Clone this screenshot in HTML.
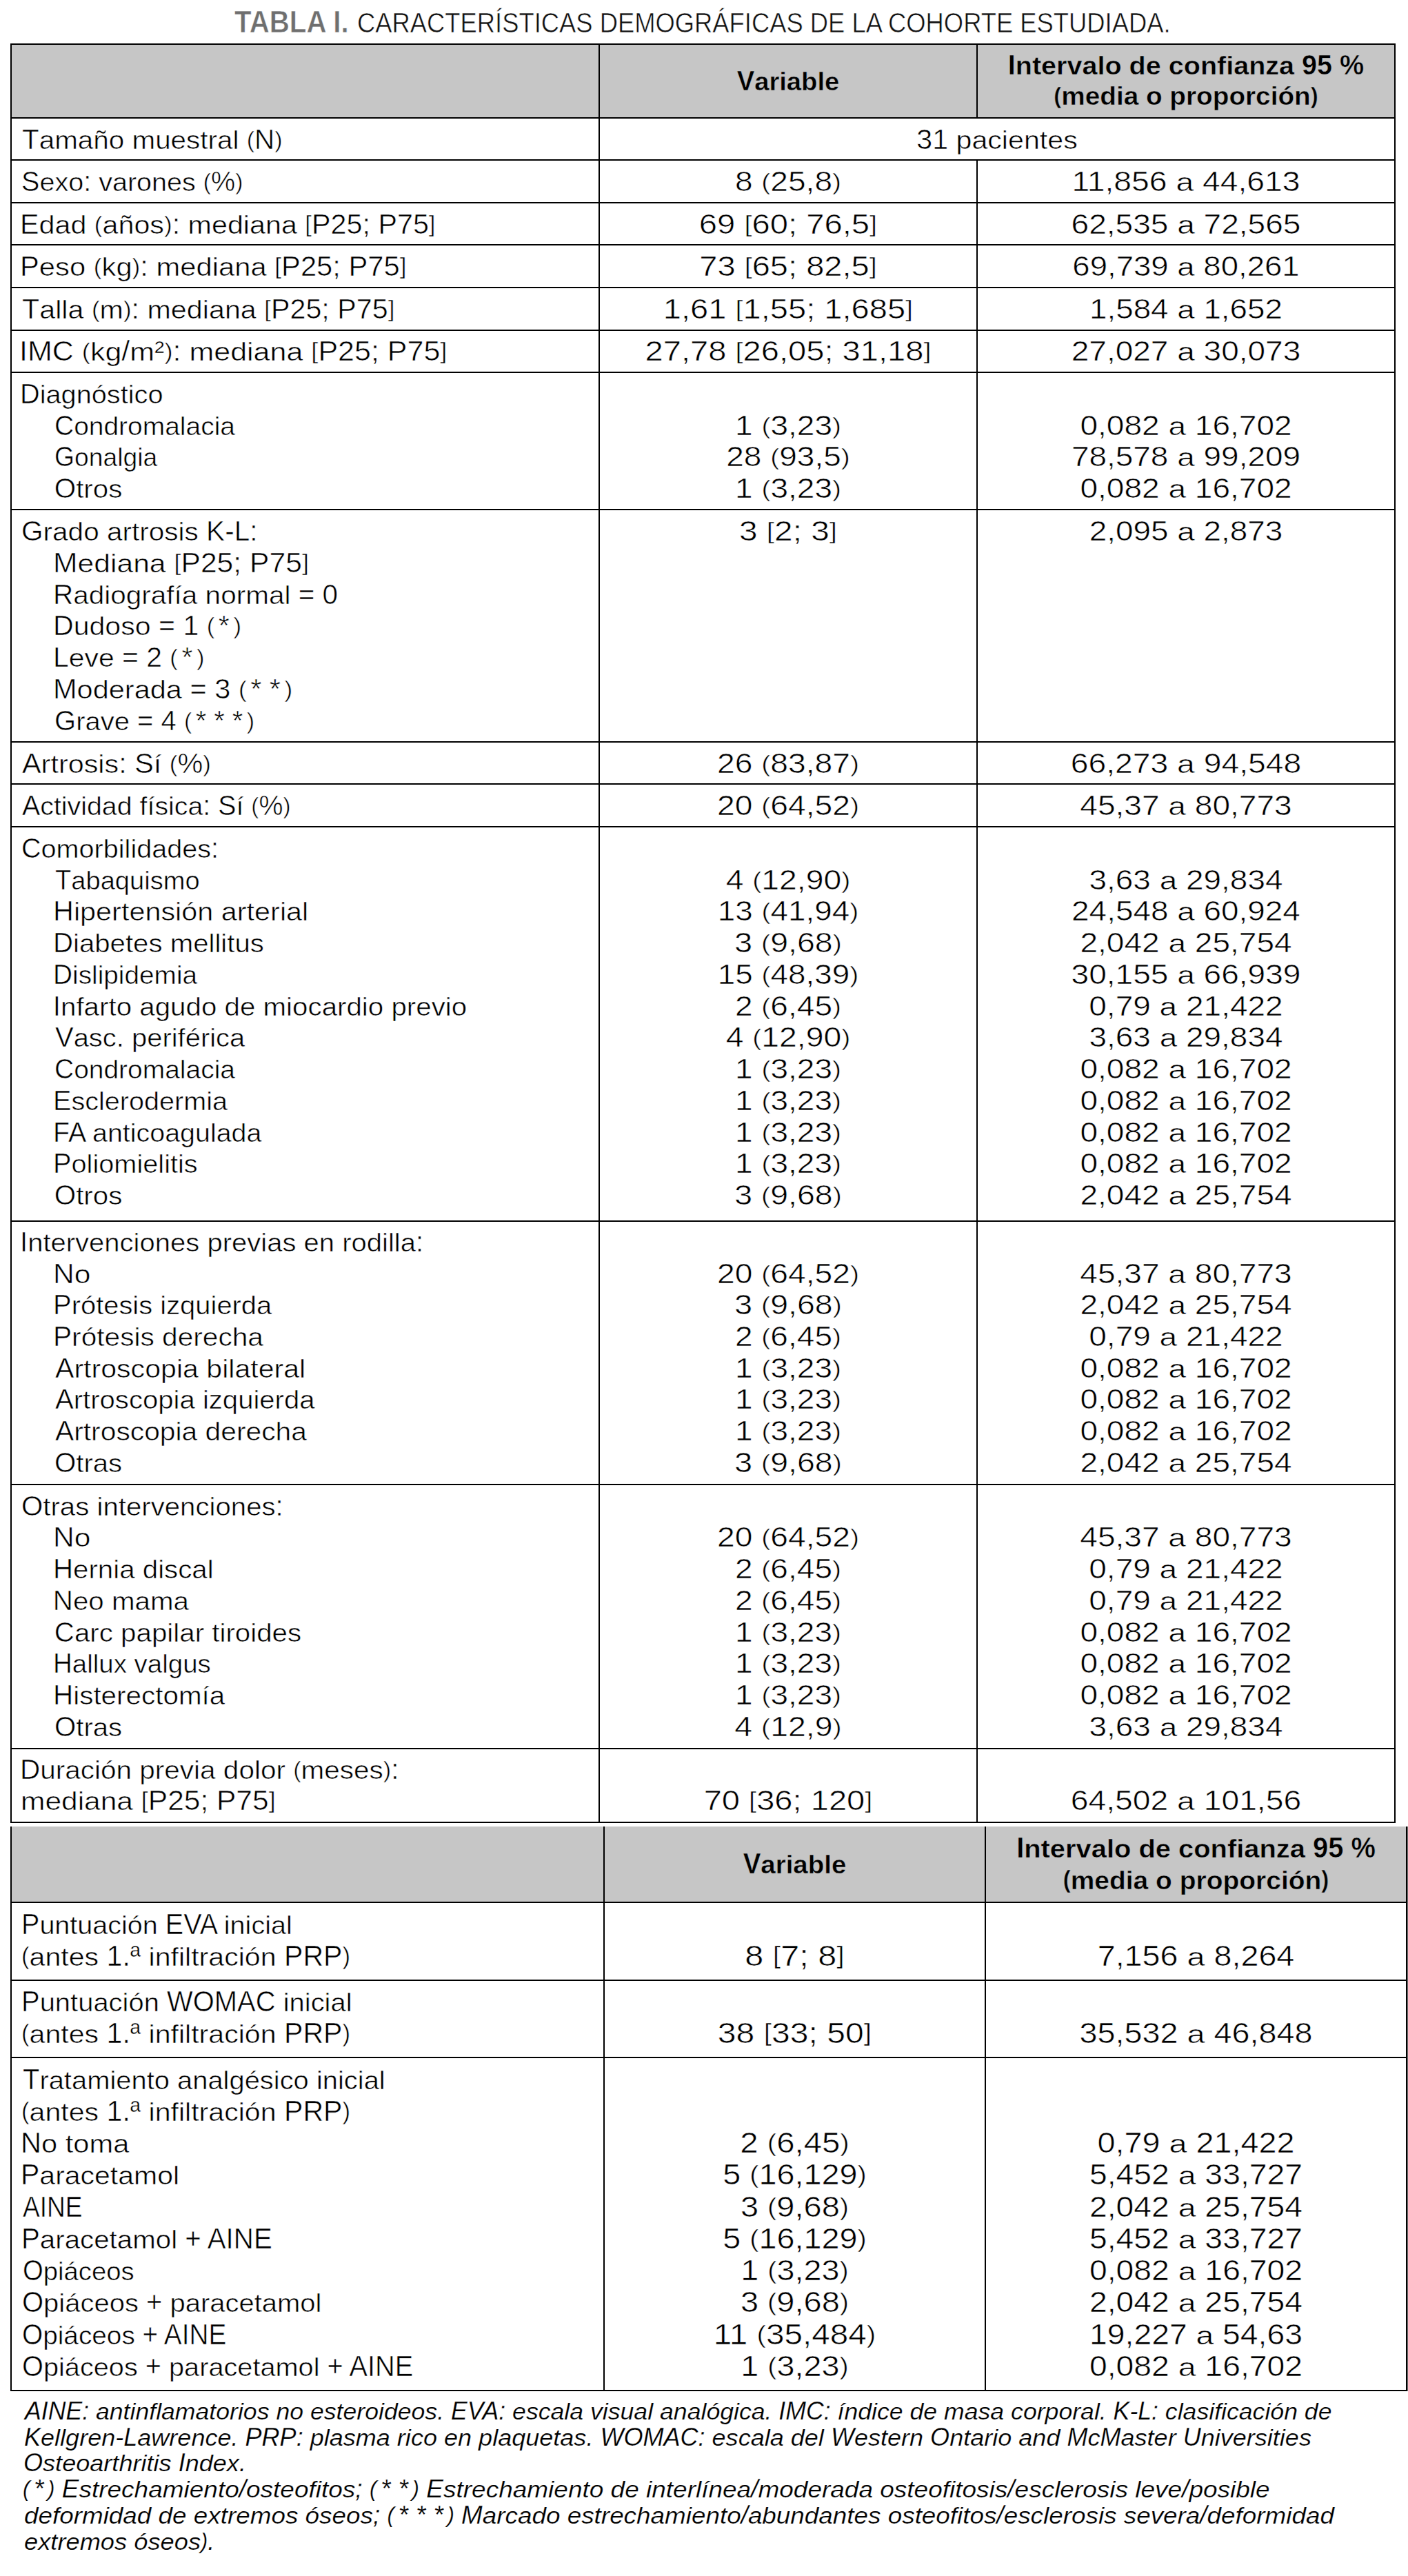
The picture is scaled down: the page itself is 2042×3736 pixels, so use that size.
<!DOCTYPE html><html lang="es"><head><meta charset="utf-8"><title>Tabla I. Características demográficas de la cohorte estudiada</title><style>
html,body{margin:0;padding:0;background:#fff;}
body{width:2042px;height:3736px;position:relative;overflow:hidden;}
.r{position:absolute}
.t{position:absolute;white-space:nowrap;font-family:"Liberation Sans",Arial,sans-serif;font-size:40.3px;line-height:40px;color:#000;-webkit-text-stroke:0.6px #fff}
.hd{-webkit-text-stroke:0.5px #c6c6c6}
.a{padding:0 5.5px}
.lc{display:inline-block;transform:scaleY(var(--ls,0.91));transform-origin:0 var(--bo)}
.p{font-size:0.846em;vertical-align:0.06em;line-height:0}
.q{font-size:0.846em;vertical-align:0.077em;line-height:0}
.tg{color:#6f6f6f}
.fn{-webkit-text-stroke-width:0.25px}
.tt{color:#111}
</style></head><body>
<div class="r" style="left:15px;top:63px;width:2009px;height:108px;background:#c6c6c6"></div>
<div class="r" style="left:15px;top:63px;width:2009px;height:2px;background:#000"></div>
<div class="r" style="left:15px;top:170px;width:2009px;height:2px;background:#000"></div>
<div class="r" style="left:15px;top:231px;width:2009px;height:2px;background:#000"></div>
<div class="r" style="left:15px;top:293px;width:2009px;height:2px;background:#000"></div>
<div class="r" style="left:15px;top:354px;width:2009px;height:2px;background:#000"></div>
<div class="r" style="left:15px;top:416px;width:2009px;height:2px;background:#000"></div>
<div class="r" style="left:15px;top:478px;width:2009px;height:2px;background:#000"></div>
<div class="r" style="left:15px;top:539px;width:2009px;height:2px;background:#000"></div>
<div class="r" style="left:15px;top:738px;width:2009px;height:2px;background:#000"></div>
<div class="r" style="left:15px;top:1075px;width:2009px;height:2px;background:#000"></div>
<div class="r" style="left:15px;top:1136px;width:2009px;height:2px;background:#000"></div>
<div class="r" style="left:15px;top:1198px;width:2009px;height:2px;background:#000"></div>
<div class="r" style="left:15px;top:1770px;width:2009px;height:2px;background:#000"></div>
<div class="r" style="left:15px;top:2152px;width:2009px;height:2px;background:#000"></div>
<div class="r" style="left:15px;top:2535px;width:2009px;height:2px;background:#000"></div>
<div class="r" style="left:15px;top:2642px;width:2009px;height:2px;background:#000"></div>
<div class="r" style="left:15px;top:63px;width:2px;height:2581px;background:#000"></div>
<div class="r" style="left:2022px;top:63px;width:2px;height:2581px;background:#000"></div>
<div class="r" style="left:868px;top:63px;width:2px;height:2581px;background:#000"></div>
<div class="r" style="left:1416px;top:63px;width:2px;height:108px;background:#000"></div>
<div class="r" style="left:1416px;top:231px;width:2px;height:2413px;background:#000"></div>
<div class="r" style="left:15px;top:2649px;width:2026px;height:109px;background:#c6c6c6"></div>
<div class="r" style="left:15px;top:2758px;width:2026px;height:2px;background:#000"></div>
<div class="r" style="left:15px;top:2871px;width:2026px;height:2px;background:#000"></div>
<div class="r" style="left:15px;top:2983px;width:2026px;height:2px;background:#000"></div>
<div class="r" style="left:15px;top:3466px;width:2026px;height:2px;background:#000"></div>
<div class="r" style="left:15px;top:2649px;width:2px;height:819px;background:#000"></div>
<div class="r" style="left:2039px;top:2649px;width:2px;height:819px;background:#000"></div>
<div class="r" style="left:2041px;top:2649px;width:1px;height:819px;background:#7a7a7a"></div>
<div class="r" style="left:875px;top:2649px;width:2px;height:819px;background:#000"></div>
<div class="r" style="left:1428px;top:2649px;width:2px;height:819px;background:#000"></div>
<div class="t hd" style="top:98px;--bo:33px;font-size:40.3px;font-weight:700;font-style:normal;left:870px;width:546px;text-align:center;transform-origin:50% 0;transform:scaleX(0.9481)">V<span class="lc">ariable</span></div>
<div class="t hd" style="top:75px;--bo:33px;font-size:40.3px;font-weight:700;font-style:normal;left:1418px;width:604px;text-align:center;transform-origin:50% 0;transform:scaleX(0.9814)">I<span class="lc">ntervalo</span> <span class="lc">de</span> <span class="lc">confianza</span> 95 %</div>
<div class="t hd" style="top:119px;--bo:33px;font-size:40.3px;font-weight:700;font-style:normal;left:1418px;width:604px;text-align:center;transform-origin:50% 0;transform:scaleX(0.9608)"><span class="p">(</span><span class="lc">media</span> <span class="lc">o</span> <span class="lc">proporción</span><span class="p">)</span></div>
<div class="t" style="top:183px;--bo:33px;left:31.7px;transform-origin:0 0;transform:scaleX(1.0027)">T<span class="lc">amaño</span> <span class="lc">muestral</span> <span class="p">(</span>N<span class="p">)</span></div>
<div class="t" style="top:183px;--bo:33px;left:870px;width:1152px;text-align:center;transform-origin:50% 0;transform:scaleX(1.0216)">31 <span class="lc">pacientes</span></div>
<div class="t" style="top:244px;--bo:33px;left:30.7px;transform-origin:0 0;transform:scaleX(0.9814)">S<span class="lc">exo</span>: <span class="lc">varones</span> <span class="p">(</span>%<span class="p">)</span></div>
<div class="t" style="top:244px;--bo:33px;left:870px;width:546px;text-align:center;transform-origin:50% 0;transform:scaleX(1.1435)">8 <span class="p">(</span>25,8<span class="p">)</span></div>
<div class="t" style="top:244px;--bo:33px;left:1418px;width:604px;text-align:center;transform-origin:50% 0;transform:scaleX(1.1484)">11,856 <span class="lc">a</span> 44,613</div>
<div class="t" style="top:306px;--bo:33px;left:28.6px;transform-origin:0 0;transform:scaleX(1.0241)">E<span class="lc">dad</span> <span class="p">(</span><span class="lc">años</span><span class="p">)</span>: <span class="lc">mediana</span> <span class="q">[</span>P25; P75<span class="q">]</span></div>
<div class="t" style="top:306px;--bo:33px;left:870px;width:546px;text-align:center;transform-origin:50% 0;transform:scaleX(1.1713)">69 <span class="q">[</span>60; 76,5<span class="q">]</span></div>
<div class="t" style="top:306px;--bo:33px;left:1418px;width:604px;text-align:center;transform-origin:50% 0;transform:scaleX(1.1429)">62,535 <span class="lc">a</span> 72,565</div>
<div class="t" style="top:367px;--bo:33px;left:28.6px;transform-origin:0 0;transform:scaleX(1.0356)">P<span class="lc">eso</span> <span class="p">(</span><span class="lc">kg</span><span class="p">)</span>: <span class="lc">mediana</span> <span class="q">[</span>P25; P75<span class="q">]</span></div>
<div class="t" style="top:367px;--bo:33px;left:870px;width:546px;text-align:center;transform-origin:50% 0;transform:scaleX(1.1667)">73 <span class="q">[</span>65; 82,5<span class="q">]</span></div>
<div class="t" style="top:367px;--bo:33px;left:1418px;width:604px;text-align:center;transform-origin:50% 0;transform:scaleX(1.1303)">69,739 <span class="lc">a</span> 80,261</div>
<div class="t" style="top:429px;--bo:33px;left:31.7px;transform-origin:0 0;transform:scaleX(1.0239)">T<span class="lc">alla</span> <span class="p">(</span><span class="lc">m</span><span class="p">)</span>: <span class="lc">mediana</span> <span class="q">[</span>P25; P75<span class="q">]</span></div>
<div class="t" style="top:429px;--bo:33px;left:870px;width:546px;text-align:center;transform-origin:50% 0;transform:scaleX(1.1678)">1,61 <span class="q">[</span>1,55; 1,685<span class="q">]</span></div>
<div class="t" style="top:429px;--bo:33px;left:1418px;width:604px;text-align:center;transform-origin:50% 0;transform:scaleX(1.1353)">1,584 <span class="lc">a</span> 1,652</div>
<div class="t" style="top:490px;--bo:33px;left:28.4px;transform-origin:0 0;transform:scaleX(1.0670)">IMC <span class="p">(</span><span class="lc">kg</span>/<span class="lc">m</span>²<span class="p">)</span>: <span class="lc">mediana</span> <span class="q">[</span>P25; P75<span class="q">]</span></div>
<div class="t" style="top:490px;--bo:33px;left:870px;width:546px;text-align:center;transform-origin:50% 0;transform:scaleX(1.1686)">27,78 <span class="q">[</span>26,05; 31,18<span class="q">]</span></div>
<div class="t" style="top:490px;--bo:33px;left:1418px;width:604px;text-align:center;transform-origin:50% 0;transform:scaleX(1.1415)">27,027 <span class="lc">a</span> 30,073</div>
<div class="t" style="top:552px;--bo:33px;left:28.8px;transform-origin:0 0;transform:scaleX(0.9854)">D<span class="lc">iagnóstico</span></div>
<div class="t" style="top:598px;--bo:33px;left:78.9px;transform-origin:0 0;transform:scaleX(0.9665)">C<span class="lc">ondromalacia</span></div>
<div class="t" style="top:643px;--bo:33px;left:79.0px;transform-origin:0 0;transform:scaleX(0.9245)">G<span class="lc">onalgia</span></div>
<div class="t" style="top:689px;--bo:33px;left:78.8px;transform-origin:0 0;transform:scaleX(1.0000)">O<span class="lc">tros</span></div>
<div class="t" style="top:598px;--bo:33px;left:870px;width:546px;text-align:center;transform-origin:50% 0;transform:scaleX(1.1426)">1 <span class="p">(</span>3,23<span class="p">)</span></div>
<div class="t" style="top:643px;--bo:33px;left:870px;width:546px;text-align:center;transform-origin:50% 0;transform:scaleX(1.1425)">28 <span class="p">(</span>93,5<span class="p">)</span></div>
<div class="t" style="top:689px;--bo:33px;left:870px;width:546px;text-align:center;transform-origin:50% 0;transform:scaleX(1.1426)">1 <span class="p">(</span>3,23<span class="p">)</span></div>
<div class="t" style="top:598px;--bo:33px;left:1418px;width:604px;text-align:center;transform-origin:50% 0;transform:scaleX(1.1423)">0,082 <span class="lc">a</span> 16,702</div>
<div class="t" style="top:643px;--bo:33px;left:1418px;width:604px;text-align:center;transform-origin:50% 0;transform:scaleX(1.1404)">78,578 <span class="lc">a</span> 99,209</div>
<div class="t" style="top:689px;--bo:33px;left:1418px;width:604px;text-align:center;transform-origin:50% 0;transform:scaleX(1.1423)">0,082 <span class="lc">a</span> 16,702</div>
<div class="t" style="top:751px;--bo:33px;left:30.7px;transform-origin:0 0;transform:scaleX(1.0060)">G<span class="lc">rado</span> <span class="lc">artrosis</span> K-L:</div>
<div class="t" style="top:797px;--bo:33px;left:76.6px;transform-origin:0 0;transform:scaleX(1.0581)">M<span class="lc">ediana</span> <span class="q">[</span>P25; P75<span class="q">]</span></div>
<div class="t" style="top:843px;--bo:33px;left:76.8px;transform-origin:0 0;transform:scaleX(1.0049)">R<span class="lc">adiografía</span> <span class="lc">normal</span> = 0</div>
<div class="t" style="top:888px;--bo:33px;left:76.7px;transform-origin:0 0;transform:scaleX(1.0192)">D<span class="lc">udoso</span> = 1 <span class="p">(</span><span class="a">*</span><span class="p">)</span></div>
<div class="t" style="top:934px;--bo:33px;left:76.7px;transform-origin:0 0;transform:scaleX(1.0143)">L<span class="lc">eve</span> = 2 <span class="p">(</span><span class="a">*</span><span class="p">)</span></div>
<div class="t" style="top:980px;--bo:33px;left:76.7px;transform-origin:0 0;transform:scaleX(1.0302)">M<span class="lc">oderada</span> = 3 <span class="p">(</span><span class="a">*</span><span class="a">*</span><span class="p">)</span></div>
<div class="t" style="top:1026px;--bo:33px;left:78.8px;transform-origin:0 0;transform:scaleX(0.9931)">G<span class="lc">rave</span> = 4 <span class="p">(</span><span class="a">*</span><span class="a">*</span><span class="a">*</span><span class="p">)</span></div>
<div class="t" style="top:751px;--bo:33px;left:870px;width:546px;text-align:center;transform-origin:50% 0;transform:scaleX(1.1861)">3 <span class="q">[</span>2; 3<span class="q">]</span></div>
<div class="t" style="top:751px;--bo:33px;left:1418px;width:604px;text-align:center;transform-origin:50% 0;transform:scaleX(1.1388)">2,095 <span class="lc">a</span> 2,873</div>
<div class="t" style="top:1088px;--bo:33px;left:31.7px;transform-origin:0 0;transform:scaleX(1.0266)">A<span class="lc">rtrosis</span>: S<span class="lc">í</span> <span class="p">(</span>%<span class="p">)</span></div>
<div class="t" style="top:1088px;--bo:33px;left:870px;width:546px;text-align:center;transform-origin:50% 0;transform:scaleX(1.1474)">26 <span class="p">(</span>83,87<span class="p">)</span></div>
<div class="t" style="top:1088px;--bo:33px;left:1418px;width:604px;text-align:center;transform-origin:50% 0;transform:scaleX(1.1477)">66,273 <span class="lc">a</span> 94,548</div>
<div class="t" style="top:1149px;--bo:33px;left:31.7px;transform-origin:0 0;transform:scaleX(0.9760)">A<span class="lc">ctividad</span> <span class="lc">física</span>: S<span class="lc">í</span> <span class="p">(</span>%<span class="p">)</span></div>
<div class="t" style="top:1149px;--bo:33px;left:870px;width:546px;text-align:center;transform-origin:50% 0;transform:scaleX(1.1474)">20 <span class="p">(</span>64,52<span class="p">)</span></div>
<div class="t" style="top:1149px;--bo:33px;left:1418px;width:604px;text-align:center;transform-origin:50% 0;transform:scaleX(1.1429)">45,37 <span class="lc">a</span> 80,773</div>
<div class="t" style="top:1211px;--bo:33px;left:30.7px;transform-origin:0 0;transform:scaleX(0.9825)">C<span class="lc">omorbilidades</span>:</div>
<div class="t" style="top:1257px;--bo:33px;left:79.9px;transform-origin:0 0;transform:scaleX(0.9452)">T<span class="lc">abaquismo</span></div>
<div class="t" style="top:1302px;--bo:33px;left:76.7px;transform-origin:0 0;transform:scaleX(1.0268)">H<span class="lc">ipertensión</span> <span class="lc">arterial</span></div>
<div class="t" style="top:1348px;--bo:33px;left:76.8px;transform-origin:0 0;transform:scaleX(0.9967)">D<span class="lc">iabetes</span> <span class="lc">mellitus</span></div>
<div class="t" style="top:1394px;--bo:33px;left:77.0px;transform-origin:0 0;transform:scaleX(0.9624)">D<span class="lc">islipidemia</span></div>
<div class="t" style="top:1440px;--bo:33px;left:76.8px;transform-origin:0 0;transform:scaleX(1.0000)">I<span class="lc">nfarto</span> <span class="lc">agudo</span> <span class="lc">de</span> <span class="lc">miocardio</span> <span class="lc">previo</span></div>
<div class="t" style="top:1485px;--bo:33px;left:79.8px;transform-origin:0 0;transform:scaleX(0.9909)">V<span class="lc">asc</span>. <span class="lc">periférica</span></div>
<div class="t" style="top:1531px;--bo:33px;left:78.9px;transform-origin:0 0;transform:scaleX(0.9665)">C<span class="lc">ondromalacia</span></div>
<div class="t" style="top:1577px;--bo:33px;left:76.9px;transform-origin:0 0;transform:scaleX(0.9826)">E<span class="lc">sclerodermia</span></div>
<div class="t" style="top:1623px;--bo:33px;left:76.9px;transform-origin:0 0;transform:scaleX(0.9780)">FA <span class="lc">anticoagulada</span></div>
<div class="t" style="top:1668px;--bo:33px;left:76.9px;transform-origin:0 0;transform:scaleX(0.9855)">P<span class="lc">oliomielitis</span></div>
<div class="t" style="top:1714px;--bo:33px;left:78.8px;transform-origin:0 0;transform:scaleX(1.0000)">O<span class="lc">tros</span></div>
<div class="t" style="top:1257px;--bo:33px;left:870px;width:546px;text-align:center;transform-origin:50% 0;transform:scaleX(1.1494)">4 <span class="p">(</span>12,90<span class="p">)</span></div>
<div class="t" style="top:1302px;--bo:33px;left:870px;width:546px;text-align:center;transform-origin:50% 0;transform:scaleX(1.1379)">13 <span class="p">(</span>41,94<span class="p">)</span></div>
<div class="t" style="top:1348px;--bo:33px;left:870px;width:546px;text-align:center;transform-origin:50% 0;transform:scaleX(1.1538)">3 <span class="p">(</span>9,68<span class="p">)</span></div>
<div class="t" style="top:1394px;--bo:33px;left:870px;width:546px;text-align:center;transform-origin:50% 0;transform:scaleX(1.1379)">15 <span class="p">(</span>48,39<span class="p">)</span></div>
<div class="t" style="top:1440px;--bo:33px;left:870px;width:546px;text-align:center;transform-origin:50% 0;transform:scaleX(1.1435)">2 <span class="p">(</span>6,45<span class="p">)</span></div>
<div class="t" style="top:1485px;--bo:33px;left:870px;width:546px;text-align:center;transform-origin:50% 0;transform:scaleX(1.1494)">4 <span class="p">(</span>12,90<span class="p">)</span></div>
<div class="t" style="top:1531px;--bo:33px;left:870px;width:546px;text-align:center;transform-origin:50% 0;transform:scaleX(1.1426)">1 <span class="p">(</span>3,23<span class="p">)</span></div>
<div class="t" style="top:1577px;--bo:33px;left:870px;width:546px;text-align:center;transform-origin:50% 0;transform:scaleX(1.1426)">1 <span class="p">(</span>3,23<span class="p">)</span></div>
<div class="t" style="top:1623px;--bo:33px;left:870px;width:546px;text-align:center;transform-origin:50% 0;transform:scaleX(1.1426)">1 <span class="p">(</span>3,23<span class="p">)</span></div>
<div class="t" style="top:1668px;--bo:33px;left:870px;width:546px;text-align:center;transform-origin:50% 0;transform:scaleX(1.1426)">1 <span class="p">(</span>3,23<span class="p">)</span></div>
<div class="t" style="top:1714px;--bo:33px;left:870px;width:546px;text-align:center;transform-origin:50% 0;transform:scaleX(1.1538)">3 <span class="p">(</span>9,68<span class="p">)</span></div>
<div class="t" style="top:1257px;--bo:33px;left:1418px;width:604px;text-align:center;transform-origin:50% 0;transform:scaleX(1.1399)">3,63 <span class="lc">a</span> 29,834</div>
<div class="t" style="top:1302px;--bo:33px;left:1418px;width:604px;text-align:center;transform-origin:50% 0;transform:scaleX(1.1389)">24,548 <span class="lc">a</span> 60,924</div>
<div class="t" style="top:1348px;--bo:33px;left:1418px;width:604px;text-align:center;transform-origin:50% 0;transform:scaleX(1.1423)">2,042 <span class="lc">a</span> 25,754</div>
<div class="t" style="top:1394px;--bo:33px;left:1418px;width:604px;text-align:center;transform-origin:50% 0;transform:scaleX(1.1429)">30,155 <span class="lc">a</span> 66,939</div>
<div class="t" style="top:1440px;--bo:33px;left:1418px;width:604px;text-align:center;transform-origin:50% 0;transform:scaleX(1.1415)">0,79 <span class="lc">a</span> 21,422</div>
<div class="t" style="top:1485px;--bo:33px;left:1418px;width:604px;text-align:center;transform-origin:50% 0;transform:scaleX(1.1399)">3,63 <span class="lc">a</span> 29,834</div>
<div class="t" style="top:1531px;--bo:33px;left:1418px;width:604px;text-align:center;transform-origin:50% 0;transform:scaleX(1.1423)">0,082 <span class="lc">a</span> 16,702</div>
<div class="t" style="top:1577px;--bo:33px;left:1418px;width:604px;text-align:center;transform-origin:50% 0;transform:scaleX(1.1423)">0,082 <span class="lc">a</span> 16,702</div>
<div class="t" style="top:1623px;--bo:33px;left:1418px;width:604px;text-align:center;transform-origin:50% 0;transform:scaleX(1.1423)">0,082 <span class="lc">a</span> 16,702</div>
<div class="t" style="top:1668px;--bo:33px;left:1418px;width:604px;text-align:center;transform-origin:50% 0;transform:scaleX(1.1423)">0,082 <span class="lc">a</span> 16,702</div>
<div class="t" style="top:1714px;--bo:33px;left:1418px;width:604px;text-align:center;transform-origin:50% 0;transform:scaleX(1.1423)">2,042 <span class="lc">a</span> 25,754</div>
<div class="t" style="top:1782px;--bo:33px;left:28.7px;transform-origin:0 0;transform:scaleX(0.9931)">I<span class="lc">ntervenciones</span> <span class="lc">previas</span> <span class="lc">en</span> <span class="lc">rodilla</span>:</div>
<div class="t" style="top:1828px;--bo:33px;left:76.6px;transform-origin:0 0;transform:scaleX(1.0556)">N<span class="lc">o</span></div>
<div class="t" style="top:1873px;--bo:33px;left:76.8px;transform-origin:0 0;transform:scaleX(0.9905)">P<span class="lc">rótesis</span> <span class="lc">izquierda</span></div>
<div class="t" style="top:1919px;--bo:33px;left:76.8px;transform-origin:0 0;transform:scaleX(1.0084)">P<span class="lc">rótesis</span> <span class="lc">derecha</span></div>
<div class="t" style="top:1965px;--bo:33px;left:79.8px;transform-origin:0 0;transform:scaleX(1.0199)">A<span class="lc">rtroscopia</span> <span class="lc">bilateral</span></div>
<div class="t" style="top:2010px;--bo:33px;left:79.8px;transform-origin:0 0;transform:scaleX(0.9947)">A<span class="lc">rtroscopia</span> <span class="lc">izquierda</span></div>
<div class="t" style="top:2056px;--bo:33px;left:79.8px;transform-origin:0 0;transform:scaleX(1.0120)">A<span class="lc">rtroscopia</span> <span class="lc">derecha</span></div>
<div class="t" style="top:2102px;--bo:33px;left:78.8px;transform-origin:0 0;transform:scaleX(0.9958)">O<span class="lc">tras</span></div>
<div class="t" style="top:1828px;--bo:33px;left:870px;width:546px;text-align:center;transform-origin:50% 0;transform:scaleX(1.1474)">20 <span class="p">(</span>64,52<span class="p">)</span></div>
<div class="t" style="top:1873px;--bo:33px;left:870px;width:546px;text-align:center;transform-origin:50% 0;transform:scaleX(1.1538)">3 <span class="p">(</span>9,68<span class="p">)</span></div>
<div class="t" style="top:1919px;--bo:33px;left:870px;width:546px;text-align:center;transform-origin:50% 0;transform:scaleX(1.1435)">2 <span class="p">(</span>6,45<span class="p">)</span></div>
<div class="t" style="top:1965px;--bo:33px;left:870px;width:546px;text-align:center;transform-origin:50% 0;transform:scaleX(1.1426)">1 <span class="p">(</span>3,23<span class="p">)</span></div>
<div class="t" style="top:2010px;--bo:33px;left:870px;width:546px;text-align:center;transform-origin:50% 0;transform:scaleX(1.1426)">1 <span class="p">(</span>3,23<span class="p">)</span></div>
<div class="t" style="top:2056px;--bo:33px;left:870px;width:546px;text-align:center;transform-origin:50% 0;transform:scaleX(1.1426)">1 <span class="p">(</span>3,23<span class="p">)</span></div>
<div class="t" style="top:2102px;--bo:33px;left:870px;width:546px;text-align:center;transform-origin:50% 0;transform:scaleX(1.1538)">3 <span class="p">(</span>9,68<span class="p">)</span></div>
<div class="t" style="top:1828px;--bo:33px;left:1418px;width:604px;text-align:center;transform-origin:50% 0;transform:scaleX(1.1429)">45,37 <span class="lc">a</span> 80,773</div>
<div class="t" style="top:1873px;--bo:33px;left:1418px;width:604px;text-align:center;transform-origin:50% 0;transform:scaleX(1.1423)">2,042 <span class="lc">a</span> 25,754</div>
<div class="t" style="top:1919px;--bo:33px;left:1418px;width:604px;text-align:center;transform-origin:50% 0;transform:scaleX(1.1415)">0,79 <span class="lc">a</span> 21,422</div>
<div class="t" style="top:1965px;--bo:33px;left:1418px;width:604px;text-align:center;transform-origin:50% 0;transform:scaleX(1.1423)">0,082 <span class="lc">a</span> 16,702</div>
<div class="t" style="top:2010px;--bo:33px;left:1418px;width:604px;text-align:center;transform-origin:50% 0;transform:scaleX(1.1423)">0,082 <span class="lc">a</span> 16,702</div>
<div class="t" style="top:2056px;--bo:33px;left:1418px;width:604px;text-align:center;transform-origin:50% 0;transform:scaleX(1.1423)">0,082 <span class="lc">a</span> 16,702</div>
<div class="t" style="top:2102px;--bo:33px;left:1418px;width:604px;text-align:center;transform-origin:50% 0;transform:scaleX(1.1423)">2,042 <span class="lc">a</span> 25,754</div>
<div class="t" style="top:2165px;--bo:33px;left:30.7px;transform-origin:0 0;transform:scaleX(0.9973)">O<span class="lc">tras</span> <span class="lc">intervenciones</span>:</div>
<div class="t" style="top:2210px;--bo:33px;left:76.6px;transform-origin:0 0;transform:scaleX(1.0556)">N<span class="lc">o</span></div>
<div class="t" style="top:2256px;--bo:33px;left:76.8px;transform-origin:0 0;transform:scaleX(0.9987)">H<span class="lc">ernia</span> <span class="lc">discal</span></div>
<div class="t" style="top:2302px;--bo:33px;left:76.8px;transform-origin:0 0;transform:scaleX(1.0000)">N<span class="lc">eo</span> <span class="lc">mama</span></div>
<div class="t" style="top:2348px;--bo:33px;left:78.8px;transform-origin:0 0;transform:scaleX(1.0000)">C<span class="lc">arc</span> <span class="lc">papilar</span> <span class="lc">tiroides</span></div>
<div class="t" style="top:2393px;--bo:33px;left:77.0px;transform-origin:0 0;transform:scaleX(0.9547)">H<span class="lc">allux</span> <span class="lc">valgus</span></div>
<div class="t" style="top:2439px;--bo:33px;left:76.8px;transform-origin:0 0;transform:scaleX(1.0029)">H<span class="lc">isterectomía</span></div>
<div class="t" style="top:2485px;--bo:33px;left:78.8px;transform-origin:0 0;transform:scaleX(0.9958)">O<span class="lc">tras</span></div>
<div class="t" style="top:2210px;--bo:33px;left:870px;width:546px;text-align:center;transform-origin:50% 0;transform:scaleX(1.1474)">20 <span class="p">(</span>64,52<span class="p">)</span></div>
<div class="t" style="top:2256px;--bo:33px;left:870px;width:546px;text-align:center;transform-origin:50% 0;transform:scaleX(1.1435)">2 <span class="p">(</span>6,45<span class="p">)</span></div>
<div class="t" style="top:2302px;--bo:33px;left:870px;width:546px;text-align:center;transform-origin:50% 0;transform:scaleX(1.1435)">2 <span class="p">(</span>6,45<span class="p">)</span></div>
<div class="t" style="top:2348px;--bo:33px;left:870px;width:546px;text-align:center;transform-origin:50% 0;transform:scaleX(1.1426)">1 <span class="p">(</span>3,23<span class="p">)</span></div>
<div class="t" style="top:2393px;--bo:33px;left:870px;width:546px;text-align:center;transform-origin:50% 0;transform:scaleX(1.1426)">1 <span class="p">(</span>3,23<span class="p">)</span></div>
<div class="t" style="top:2439px;--bo:33px;left:870px;width:546px;text-align:center;transform-origin:50% 0;transform:scaleX(1.1426)">1 <span class="p">(</span>3,23<span class="p">)</span></div>
<div class="t" style="top:2485px;--bo:33px;left:870px;width:546px;text-align:center;transform-origin:50% 0;transform:scaleX(1.1527)">4 <span class="p">(</span>12,9<span class="p">)</span></div>
<div class="t" style="top:2210px;--bo:33px;left:1418px;width:604px;text-align:center;transform-origin:50% 0;transform:scaleX(1.1429)">45,37 <span class="lc">a</span> 80,773</div>
<div class="t" style="top:2256px;--bo:33px;left:1418px;width:604px;text-align:center;transform-origin:50% 0;transform:scaleX(1.1415)">0,79 <span class="lc">a</span> 21,422</div>
<div class="t" style="top:2302px;--bo:33px;left:1418px;width:604px;text-align:center;transform-origin:50% 0;transform:scaleX(1.1415)">0,79 <span class="lc">a</span> 21,422</div>
<div class="t" style="top:2348px;--bo:33px;left:1418px;width:604px;text-align:center;transform-origin:50% 0;transform:scaleX(1.1423)">0,082 <span class="lc">a</span> 16,702</div>
<div class="t" style="top:2393px;--bo:33px;left:1418px;width:604px;text-align:center;transform-origin:50% 0;transform:scaleX(1.1423)">0,082 <span class="lc">a</span> 16,702</div>
<div class="t" style="top:2439px;--bo:33px;left:1418px;width:604px;text-align:center;transform-origin:50% 0;transform:scaleX(1.1423)">0,082 <span class="lc">a</span> 16,702</div>
<div class="t" style="top:2485px;--bo:33px;left:1418px;width:604px;text-align:center;transform-origin:50% 0;transform:scaleX(1.1399)">3,63 <span class="lc">a</span> 29,834</div>
<div class="t" style="top:2547px;--bo:33px;left:28.7px;transform-origin:0 0;transform:scaleX(1.0048)">D<span class="lc">uración</span> <span class="lc">previa</span> <span class="lc">dolor</span> <span class="p">(</span><span class="lc">meses</span><span class="p">)</span>:</div>
<div class="t" style="top:2592px;--bo:33px;left:29.5px;transform-origin:0 0;transform:scaleX(1.0545)"><span class="lc">mediana</span> <span class="q">[</span>P25; P75<span class="q">]</span></div>
<div class="t" style="top:2592px;--bo:33px;left:870px;width:546px;text-align:center;transform-origin:50% 0;transform:scaleX(1.1683)">70 <span class="q">[</span>36; 120<span class="q">]</span></div>
<div class="t" style="top:2592px;--bo:33px;left:1418px;width:604px;text-align:center;transform-origin:50% 0;transform:scaleX(1.1477)">64,502 <span class="lc">a</span> 101,56</div>
<div class="t hd" style="top:2683px;--bo:34px;--ls:0.88;font-size:41.9px;font-weight:700;font-style:normal;left:877px;width:551px;text-align:center;transform-origin:50% 0;transform:scaleX(0.9180)">V<span class="lc">ariable</span></div>
<div class="t hd" style="top:2660px;--bo:34px;--ls:0.88;font-size:41.9px;font-weight:700;font-style:normal;left:1430px;width:609px;text-align:center;transform-origin:50% 0;transform:scaleX(0.9517)">I<span class="lc">ntervalo</span> <span class="lc">de</span> <span class="lc">confianza</span> 95 %</div>
<div class="t hd" style="top:2706px;--bo:34px;--ls:0.88;font-size:41.9px;font-weight:700;font-style:normal;left:1430px;width:609px;text-align:center;transform-origin:50% 0;transform:scaleX(0.9299)"><span class="p">(</span><span class="lc">media</span> <span class="lc">o</span> <span class="lc">proporción</span><span class="p">)</span></div>
<div class="t" style="top:2771px;--bo:34px;--ls:0.88;font-size:41.9px;font-weight:400;font-style:normal;left:30.5px;transform-origin:0 0;transform:scaleX(0.9438)">P<span class="lc">untuación</span> EVA <span class="lc">inicial</span></div>
<div class="t" style="top:2817px;--bo:34px;--ls:0.88;font-size:41.9px;font-weight:400;font-style:normal;left:31.4px;transform-origin:0 0;transform:scaleX(0.9813)"><span class="p">(</span><span class="lc">antes</span> 1.ª <span class="lc">infiltración</span> PRP<span class="p">)</span></div>
<div class="t" style="top:2817px;--bo:34px;--ls:0.88;font-size:41.9px;font-weight:400;font-style:normal;left:877px;width:551px;text-align:center;transform-origin:50% 0;transform:scaleX(1.1600)">8 <span class="q">[</span>7; 8<span class="q">]</span></div>
<div class="t" style="top:2817px;--bo:34px;--ls:0.88;font-size:41.9px;font-weight:400;font-style:normal;left:1430px;width:609px;text-align:center;transform-origin:50% 0;transform:scaleX(1.1147)">7,156 <span class="lc">a</span> 8,264</div>
<div class="t" style="top:2883px;--bo:34px;--ls:0.88;font-size:41.9px;font-weight:400;font-style:normal;left:30.5px;transform-origin:0 0;transform:scaleX(0.9536)">P<span class="lc">untuación</span> WOMAC <span class="lc">inicial</span></div>
<div class="t" style="top:2929px;--bo:34px;--ls:0.88;font-size:41.9px;font-weight:400;font-style:normal;left:31.4px;transform-origin:0 0;transform:scaleX(0.9813)"><span class="p">(</span><span class="lc">antes</span> 1.ª <span class="lc">infiltración</span> PRP<span class="p">)</span></div>
<div class="t" style="top:2929px;--bo:34px;--ls:0.88;font-size:41.9px;font-weight:400;font-style:normal;left:877px;width:551px;text-align:center;transform-origin:50% 0;transform:scaleX(1.1489)">38 <span class="q">[</span>33; 50<span class="q">]</span></div>
<div class="t" style="top:2929px;--bo:34px;--ls:0.88;font-size:41.9px;font-weight:400;font-style:normal;left:1430px;width:609px;text-align:center;transform-origin:50% 0;transform:scaleX(1.1161)">35,532 <span class="lc">a</span> 46,848</div>
<div class="t" style="top:2996px;--bo:34px;--ls:0.88;font-size:41.9px;font-weight:400;font-style:normal;left:33.3px;transform-origin:0 0;transform:scaleX(0.9526)">T<span class="lc">ratamiento</span> <span class="lc">analgésico</span> <span class="lc">inicial</span></div>
<div class="t" style="top:3042px;--bo:34px;--ls:0.88;font-size:41.9px;font-weight:400;font-style:normal;left:31.4px;transform-origin:0 0;transform:scaleX(0.9813)"><span class="p">(</span><span class="lc">antes</span> 1.ª <span class="lc">infiltración</span> PRP<span class="p">)</span></div>
<div class="t" style="top:3088px;--bo:34px;--ls:0.88;font-size:41.9px;font-weight:400;font-style:normal;left:30.3px;transform-origin:0 0;transform:scaleX(0.9935)">N<span class="lc">o</span> <span class="lc">toma</span></div>
<div class="t" style="top:3134px;--bo:34px;--ls:0.88;font-size:41.9px;font-weight:400;font-style:normal;left:30.4px;transform-origin:0 0;transform:scaleX(0.9781)">P<span class="lc">aracetamol</span></div>
<div class="t" style="top:3181px;--bo:34px;--ls:0.88;font-size:41.9px;font-weight:400;font-style:normal;left:33.4px;transform-origin:0 0;transform:scaleX(0.8842)">AINE</div>
<div class="t" style="top:3227px;--bo:34px;--ls:0.88;font-size:41.9px;font-weight:400;font-style:normal;left:30.5px;transform-origin:0 0;transform:scaleX(0.9613)">P<span class="lc">aracetamol</span> + AINE</div>
<div class="t" style="top:3273px;--bo:34px;--ls:0.88;font-size:41.9px;font-weight:400;font-style:normal;left:32.5px;transform-origin:0 0;transform:scaleX(0.9133)">O<span class="lc">piáceos</span></div>
<div class="t" style="top:3319px;--bo:34px;--ls:0.88;font-size:41.9px;font-weight:400;font-style:normal;left:32.4px;transform-origin:0 0;transform:scaleX(0.9542)">O<span class="lc">piáceos</span> + <span class="lc">paracetamol</span></div>
<div class="t" style="top:3366px;--bo:34px;--ls:0.88;font-size:41.9px;font-weight:400;font-style:normal;left:32.4px;transform-origin:0 0;transform:scaleX(0.9253)">O<span class="lc">piáceos</span> + AINE</div>
<div class="t" style="top:3412px;--bo:34px;--ls:0.88;font-size:41.9px;font-weight:400;font-style:normal;left:32.4px;transform-origin:0 0;transform:scaleX(0.9478)">O<span class="lc">piáceos</span> + <span class="lc">paracetamol</span> + AINE</div>
<div class="t" style="top:3088px;--bo:34px;--ls:0.88;font-size:41.9px;font-weight:400;font-style:normal;left:877px;width:551px;text-align:center;transform-origin:50% 0;transform:scaleX(1.1304)">2 <span class="p">(</span>6,45<span class="p">)</span></div>
<div class="t" style="top:3134px;--bo:34px;--ls:0.88;font-size:41.9px;font-weight:400;font-style:normal;left:877px;width:551px;text-align:center;transform-origin:50% 0;transform:scaleX(1.1170)">5 <span class="p">(</span>16,129<span class="p">)</span></div>
<div class="t" style="top:3181px;--bo:34px;--ls:0.88;font-size:41.9px;font-weight:400;font-style:normal;left:877px;width:551px;text-align:center;transform-origin:50% 0;transform:scaleX(1.1221)">3 <span class="p">(</span>9,68<span class="p">)</span></div>
<div class="t" style="top:3227px;--bo:34px;--ls:0.88;font-size:41.9px;font-weight:400;font-style:normal;left:877px;width:551px;text-align:center;transform-origin:50% 0;transform:scaleX(1.1170)">5 <span class="p">(</span>16,129<span class="p">)</span></div>
<div class="t" style="top:3273px;--bo:34px;--ls:0.88;font-size:41.9px;font-weight:400;font-style:normal;left:877px;width:551px;text-align:center;transform-origin:50% 0;transform:scaleX(1.1164)">1 <span class="p">(</span>3,23<span class="p">)</span></div>
<div class="t" style="top:3319px;--bo:34px;--ls:0.88;font-size:41.9px;font-weight:400;font-style:normal;left:877px;width:551px;text-align:center;transform-origin:50% 0;transform:scaleX(1.1221)">3 <span class="p">(</span>9,68<span class="p">)</span></div>
<div class="t" style="top:3366px;--bo:34px;--ls:0.88;font-size:41.9px;font-weight:400;font-style:normal;left:877px;width:551px;text-align:center;transform-origin:50% 0;transform:scaleX(1.1370)">11 <span class="p">(</span>35,484<span class="p">)</span></div>
<div class="t" style="top:3412px;--bo:34px;--ls:0.88;font-size:41.9px;font-weight:400;font-style:normal;left:877px;width:551px;text-align:center;transform-origin:50% 0;transform:scaleX(1.1164)">1 <span class="p">(</span>3,23<span class="p">)</span></div>
<div class="t" style="top:3088px;--bo:34px;--ls:0.88;font-size:41.9px;font-weight:400;font-style:normal;left:1430px;width:609px;text-align:center;transform-origin:50% 0;transform:scaleX(1.1159)">0,79 <span class="lc">a</span> 21,422</div>
<div class="t" style="top:3134px;--bo:34px;--ls:0.88;font-size:41.9px;font-weight:400;font-style:normal;left:1430px;width:609px;text-align:center;transform-origin:50% 0;transform:scaleX(1.1058)">5,452 <span class="lc">a</span> 33,727</div>
<div class="t" style="top:3181px;--bo:34px;--ls:0.88;font-size:41.9px;font-weight:400;font-style:normal;left:1430px;width:609px;text-align:center;transform-origin:50% 0;transform:scaleX(1.1058)">2,042 <span class="lc">a</span> 25,754</div>
<div class="t" style="top:3227px;--bo:34px;--ls:0.88;font-size:41.9px;font-weight:400;font-style:normal;left:1430px;width:609px;text-align:center;transform-origin:50% 0;transform:scaleX(1.1058)">5,452 <span class="lc">a</span> 33,727</div>
<div class="t" style="top:3273px;--bo:34px;--ls:0.88;font-size:41.9px;font-weight:400;font-style:normal;left:1430px;width:609px;text-align:center;transform-origin:50% 0;transform:scaleX(1.1058)">0,082 <span class="lc">a</span> 16,702</div>
<div class="t" style="top:3319px;--bo:34px;--ls:0.88;font-size:41.9px;font-weight:400;font-style:normal;left:1430px;width:609px;text-align:center;transform-origin:50% 0;transform:scaleX(1.1058)">2,042 <span class="lc">a</span> 25,754</div>
<div class="t" style="top:3366px;--bo:34px;--ls:0.88;font-size:41.9px;font-weight:400;font-style:normal;left:1430px;width:609px;text-align:center;transform-origin:50% 0;transform:scaleX(1.1048)">19,227 <span class="lc">a</span> 54,63</div>
<div class="t" style="top:3412px;--bo:34px;--ls:0.88;font-size:41.9px;font-weight:400;font-style:normal;left:1430px;width:609px;text-align:center;transform-origin:50% 0;transform:scaleX(1.1058)">0,082 <span class="lc">a</span> 16,702</div>
<div class="t fn" style="top:3477px;--bo:32px;font-size:36.2px;font-weight:400;font-style:italic;left:35.8px;transform-origin:0 0;transform:scaleX(0.9846)">AINE: <span class="lc">antinflamatorios</span> <span class="lc">no</span> <span class="lc">esteroideos</span>. EVA: <span class="lc">escala</span> <span class="lc">visual</span> <span class="lc">analógica</span>. IMC: <span class="lc">índice</span> <span class="lc">de</span> <span class="lc">masa</span> <span class="lc">corporal</span>. K-L: <span class="lc">clasificación</span> <span class="lc">de</span></div>
<div class="t fn" style="top:3515px;--bo:32px;font-size:36.2px;font-weight:400;font-style:italic;left:34.5px;transform-origin:0 0;transform:scaleX(0.9959)">K<span class="lc">ellgren</span>-L<span class="lc">awrence</span>. PRP: <span class="lc">plasma</span> <span class="lc">rico</span> <span class="lc">en</span> <span class="lc">plaquetas</span>. WOMAC: <span class="lc">escala</span> <span class="lc">del</span> W<span class="lc">estern</span> O<span class="lc">ntario</span> <span class="lc">and</span> M<span class="lc">c</span>M<span class="lc">aster</span> U<span class="lc">niversities</span></div>
<div class="t fn" style="top:3552px;--bo:32px;font-size:36.2px;font-weight:400;font-style:italic;left:33.5px;transform-origin:0 0;transform:scaleX(0.9972)">O<span class="lc">steoarthritis</span> I<span class="lc">ndex</span>.</div>
<div class="t fn" style="top:3590px;--bo:32px;font-size:36.2px;font-weight:400;font-style:italic;left:32.8px;transform-origin:0 0;transform:scaleX(1.0220)"><span class="p">(</span><span class="a">*</span><span class="p">)</span> E<span class="lc">strechamiento</span>/<span class="lc">osteofitos</span>; <span class="p">(</span><span class="a">*</span><span class="a">*</span><span class="p">)</span> E<span class="lc">strechamiento</span> <span class="lc">de</span> <span class="lc">interlínea</span>/<span class="lc">moderada</span> <span class="lc">osteofitosis</span>/<span class="lc">esclerosis</span> <span class="lc">leve</span>/<span class="lc">posible</span></div>
<div class="t fn" style="top:3628px;--bo:32px;font-size:36.2px;font-weight:400;font-style:italic;left:34.5px;transform-origin:0 0;transform:scaleX(1.0182)"><span class="lc">deformidad</span> <span class="lc">de</span> <span class="lc">extremos</span> <span class="lc">óseos</span>; <span class="p">(</span><span class="a">*</span><span class="a">*</span><span class="a">*</span><span class="p">)</span> M<span class="lc">arcado</span> <span class="lc">estrechamiento</span>/<span class="lc">abundantes</span> <span class="lc">osteofitos</span>/<span class="lc">esclerosis</span> <span class="lc">severa</span>/<span class="lc">deformidad</span></div>
<div class="t fn" style="top:3666px;--bo:32px;font-size:36.2px;font-weight:400;font-style:italic;left:34.5px;transform-origin:0 0;transform:scaleX(1.0022)"><span class="lc">extremos</span> <span class="lc">óseos</span><span class="p">)</span>.</div>
<div class="t tg" style="top:12px;--bo:35px;font-size:44.6px;font-weight:700;font-style:normal;left:339.5px;transform-origin:0 0;transform:scaleX(0.9039)">TABLA I.</div>
<div class="t tt" style="top:13px;--bo:34px;font-size:40.0px;font-weight:400;font-style:normal;left:518.1px;transform-origin:0 0;transform:scaleX(0.9093)">CARACTERÍSTICAS DEMOGRÁFICAS DE LA COHORTE ESTUDIADA.</div>
</body></html>
